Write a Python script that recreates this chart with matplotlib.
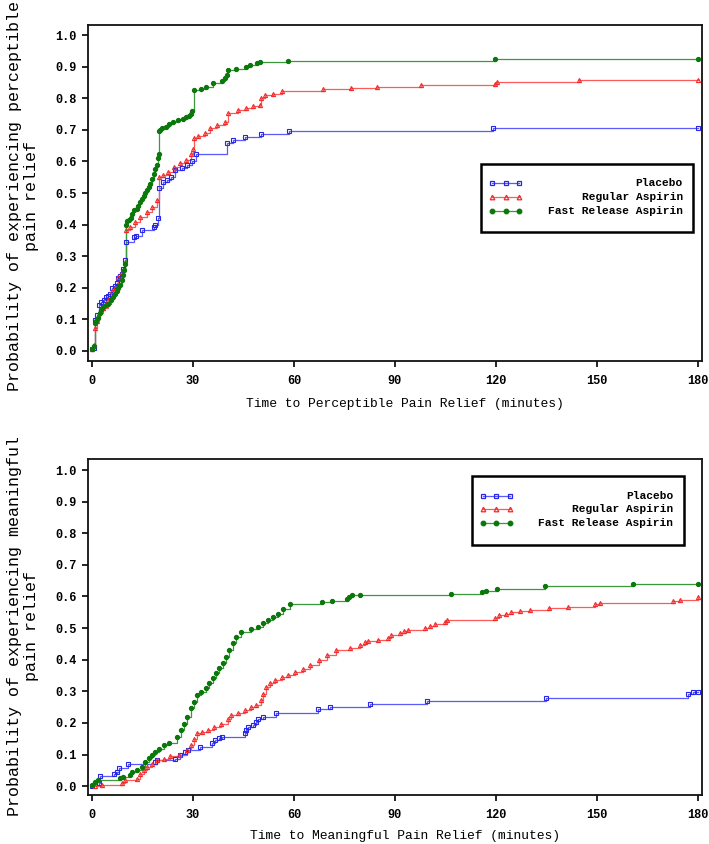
import matplotlib
matplotlib.use("Agg")
import matplotlib.pyplot as plt
from matplotlib.patches import Rectangle
from matplotlib.lines import Line2D

# ---------------- data ----------------
series_names = ["Placebo", "Regular Aspirin", "Fast Release Aspirin"]
x_ticks = [0, 30, 60, 90, 120, 150, 180]
y_ticks = [0.0, 0.1, 0.2, 0.3, 0.4, 0.5, 0.6, 0.7, 0.8, 0.9, 1.0]

# Top panel: perceptible pain relief
perc_placebo_t = [0, 0.5, 1.0, 1.5, 2.0, 2.8, 3.5, 4.1, 4.8, 5.3, 6.0, 6.8, 7.3, 7.8, 8.3, 8.8, 9.3, 9.8,
                  10.0, 12.5, 13.2, 14.8, 18.3, 18.8, 19.7, 20.0, 21.2, 22.2, 23.5, 24.5, 26.8, 28.3,
                  29.8, 30.8, 40.2, 41.8, 45.5, 50.2, 58.5, 119.0, 180.0]
perc_placebo_p = [0.005, 0.01, 0.098, 0.115, 0.146, 0.155, 0.162, 0.17, 0.175, 0.18, 0.2, 0.205, 0.215,
                  0.23, 0.238, 0.245, 0.26, 0.288, 0.345, 0.36, 0.365, 0.383, 0.393, 0.40, 0.42, 0.515,
                  0.535, 0.54, 0.55, 0.573, 0.58, 0.59, 0.60, 0.623, 0.658, 0.668, 0.678, 0.687, 0.696,
                  0.705, 0.705]

perc_regular_t = [0, 0.5, 1.0, 1.5, 2.2, 3.2, 4.7, 5.8, 6.8, 7.8, 8.8, 9.8, 10.0, 11.3, 12.8, 14.3, 16.3,
                  17.8, 19.3, 20.0, 21.2, 22.7, 24.2, 26.2, 27.8, 29.3, 30.0, 30.3, 31.5, 33.5, 35.0,
                  37.0, 39.5, 40.3, 43.3, 45.8, 47.8, 49.8, 50.3, 51.3, 53.8, 56.3, 68.7, 77.0, 84.6,
                  97.7, 119.8, 120.2, 144.6, 180.0]
perc_regular_p = [0.005, 0.019, 0.073, 0.095, 0.12, 0.135, 0.16, 0.19, 0.20, 0.235, 0.25, 0.28, 0.383,
                  0.393, 0.409, 0.425, 0.44, 0.456, 0.478, 0.552, 0.557, 0.568, 0.583, 0.594, 0.605,
                  0.625, 0.64, 0.673, 0.679, 0.69, 0.705, 0.715, 0.725, 0.752, 0.763, 0.768, 0.774,
                  0.779, 0.80, 0.81, 0.815, 0.824, 0.828, 0.832, 0.835, 0.841, 0.845, 0.851, 0.857,
                  0.857]

perc_fast_t = [0, 0.5, 1.0, 1.3, 1.8, 2.3, 2.8, 3.3, 4.0, 4.8, 5.5, 6.2, 6.8, 7.3, 7.8, 8.3, 8.8, 9.2,
               9.5, 9.8, 10.0, 10.5, 11.0, 11.5, 12.0, 12.5, 13.3, 13.8, 14.3, 14.8, 15.3, 15.8, 16.3,
               16.8, 17.3, 17.8, 18.3, 18.8, 19.2, 19.5, 19.8, 20.0, 20.3, 20.8, 22.0, 23.0, 24.0,
               25.5, 27.0, 28.0, 28.8, 29.3, 29.8, 30.2, 32.3, 33.8, 35.8, 38.7, 39.5, 40.0, 40.3,
               42.9, 45.6, 47.0, 48.9, 49.8, 58.2, 119.8, 180.0]
perc_fast_p = [0.005, 0.015, 0.088, 0.095, 0.105, 0.12, 0.13, 0.14, 0.145, 0.15, 0.16, 0.17, 0.18, 0.19,
               0.20, 0.21, 0.225, 0.24, 0.255, 0.275, 0.40, 0.41, 0.415, 0.42, 0.435, 0.445, 0.45,
               0.46, 0.47, 0.48, 0.49, 0.50, 0.51, 0.52, 0.53, 0.545, 0.56, 0.575, 0.59, 0.61, 0.625,
               0.695, 0.70, 0.705, 0.71, 0.72, 0.725, 0.73, 0.735, 0.74, 0.745, 0.75, 0.76, 0.826,
               0.83, 0.835, 0.847, 0.855, 0.865, 0.875, 0.889, 0.894, 0.90, 0.905, 0.912, 0.915,
               0.919, 0.924, 0.924]

# Bottom panel: meaningful pain relief
mean_placebo_t = [0, 2.0, 2.4, 6.4, 7.4, 7.9, 10.8, 18.7, 19.2, 24.6, 26.1, 27.6, 28.6, 32.1, 35.6,
                  36.6, 37.6, 38.6, 45.5, 45.8, 46.2, 47.7, 48.7, 49.2, 50.7, 54.6, 67.0, 70.7, 82.6,
                  99.6, 135.0, 177.0, 178.5, 180.0]
mean_placebo_p = [0.0, 0.01, 0.033, 0.04, 0.045, 0.056, 0.07, 0.077, 0.082, 0.087, 0.098, 0.108,
                  0.115, 0.125, 0.135, 0.146, 0.151, 0.156, 0.167, 0.177, 0.188, 0.193, 0.204, 0.214,
                  0.22, 0.232, 0.243, 0.25, 0.26, 0.27, 0.28, 0.29, 0.297, 0.297]

mean_regular_t = [0.9, 3.0, 8.8, 9.8, 13.3, 14.3, 15.3, 16.3, 17.8, 19.3, 21.3, 23.3, 25.8, 28.3, 29.3,
                  30.3, 31.3, 32.8, 34.3, 36.3, 38.3, 40.3, 41.3, 43.3, 45.3, 47.3, 48.8, 50.3, 50.8,
                  51.8, 52.8, 54.3, 56.3, 58.3, 60.3, 62.8, 64.8, 67.3, 69.8, 72.5, 76.7, 79.5, 81.0,
                  82.0, 85.0, 88.0, 88.8, 91.6, 92.6, 94.0, 99.0, 100.5, 101.8, 105.0, 105.5, 119.8,
                  121.0, 123.0, 124.5, 127.0, 130.0, 135.8, 141.5, 149.4, 151.0, 172.6, 174.7, 180.0]
mean_regular_p = [0.0, 0.005, 0.01, 0.019, 0.024, 0.04, 0.05, 0.06, 0.07, 0.082, 0.087, 0.094, 0.10,
                  0.113, 0.129, 0.15, 0.167, 0.172, 0.177, 0.188, 0.198, 0.214, 0.225, 0.232, 0.241,
                  0.249, 0.257, 0.272, 0.293, 0.314, 0.327, 0.335, 0.344, 0.351, 0.362, 0.372, 0.383,
                  0.399, 0.415, 0.43, 0.438, 0.448, 0.455, 0.46, 0.463, 0.47, 0.478, 0.485, 0.49,
                  0.495, 0.50, 0.508, 0.513, 0.52, 0.525, 0.532, 0.54, 0.545, 0.55, 0.553, 0.556,
                  0.563, 0.568, 0.575, 0.58, 0.585, 0.59, 0.597]

mean_fast_t = [0, 0.9, 1.9, 8.3, 9.3, 11.3, 11.8, 13.3, 14.8, 15.8, 16.8, 17.8, 18.8, 19.8, 21.3, 22.8,
               25.3, 26.3, 27.3, 28.3, 29.3, 30.3, 31.3, 32.3, 33.8, 34.8, 35.8, 36.8, 37.8, 38.8,
               39.8, 40.8, 41.8, 42.8, 44.3, 47.3, 49.3, 50.8, 52.3, 53.8, 55.3, 56.8, 58.8, 68.2,
               71.2, 75.6, 76.3, 77.1, 79.7, 106.6, 115.8, 117.0, 120.2, 134.6, 160.6, 180.0]
mean_fast_p = [0.003, 0.014, 0.02, 0.025, 0.03, 0.035, 0.045, 0.05, 0.06, 0.077, 0.088, 0.098, 0.109,
               0.119, 0.13, 0.135, 0.156, 0.177, 0.198, 0.219, 0.246, 0.267, 0.288, 0.299, 0.31,
               0.325, 0.341, 0.357, 0.373, 0.389, 0.41, 0.431, 0.452, 0.473, 0.488, 0.496, 0.502,
               0.515, 0.527, 0.536, 0.546, 0.562, 0.576, 0.582, 0.587, 0.593, 0.598, 0.604, 0.606,
               0.609, 0.613, 0.618, 0.625, 0.634, 0.64, 0.64]

# ---------------- style ----------------
line_colors = ["#5a5aff", "#ff5a5a", "#3a9a3a"]
marker_colors = ["#2626e6", "#f02a2a", "#0b780b"]
markers = ["s", "^", "o"]
fills = ["none", "none", "full"]
MONO = ["Liberation Mono", "DejaVu Sans Mono"]

fig = plt.figure(figsize=(7.09, 8.44), dpi=100)
ax_top = fig.add_axes([88 / 709, 1 - 361 / 844, 614 / 709, 336 / 844])
ax_bot = fig.add_axes([88 / 709, 1 - 795 / 844, 614 / 709, 336 / 844])


def draw_panel(ax, data, ylim, legend_box, rows_y, handle_x, text_x):
    for i, (t, p) in enumerate(data):
        ax.step(t, p, where="post", color=line_colors[i], lw=0.9, zorder=2)
        ax.plot(t, p, ls="none", marker=markers[i], ms=3.0, mew=0.8,
                mec=marker_colors[i], mfc=marker_colors[i] if fills[i] == "full" else "none",
                zorder=3)
    ax.set_xlim(-1.2, 181.2)
    ax.set_ylim(*ylim)
    ax.set_xticks(x_ticks)
    ax.set_xticklabels([str(v) for v in x_ticks])
    ax.set_yticks(y_ticks)
    ax.set_yticklabels([f"{v:.1f}" for v in y_ticks])
    for lab in ax.get_xticklabels() + ax.get_yticklabels():
        lab.set_fontfamily(MONO)
        lab.set_fontweight("bold")
        lab.set_fontsize(8.6)
    ax.tick_params(axis="x", direction="out", length=4, width=1.2, pad=6, colors="black")
    ax.tick_params(axis="y", direction="out", length=4, width=1.2, pad=4, colors="black")
    for s in ax.spines.values():
        s.set_linewidth(1.3)
        s.set_color("#111111")
    # legend box
    x0, y0, x1, y1 = legend_box
    ax.add_patch(Rectangle((x0, y0), x1 - x0, y1 - y0, transform=ax.transAxes,
                           fill=False, ec="black", lw=1.8, zorder=5))
    for i, name in enumerate(series_names):
        yy = rows_y[i]
        hx0, hx1 = handle_x
        ax.add_line(Line2D([hx0, (hx0 + hx1) / 2, hx1], [yy, yy, yy], transform=ax.transAxes,
                           color=line_colors[i], lw=0.9, marker=markers[i], ms=3.3, mew=0.9,
                           mec=marker_colors[i],
                           mfc=marker_colors[i] if fills[i] == "full" else "none", zorder=6))
        ax.text(text_x, yy, name, transform=ax.transAxes, ha="right", va="center",
                fontfamily=MONO, fontweight="bold", fontsize=8.1, zorder=6)


draw_panel(ax_top,
           [(perc_placebo_t, perc_placebo_p), (perc_regular_t, perc_regular_p),
            (perc_fast_t, perc_fast_p)],
           (-0.032, 1.032),
           (0.640, 0.384, 0.985, 0.586), (0.530, 0.488, 0.446), (0.658, 0.702), 0.969)

draw_panel(ax_bot,
           [(mean_placebo_t, mean_placebo_p), (mean_regular_t, mean_regular_p),
            (mean_fast_t, mean_fast_p)],
           (-0.028, 1.035),
           (0.625, 0.744, 0.971, 0.949), (0.891, 0.850, 0.810), (0.643, 0.687), 0.953)

fig.text(405 / 709, 1 - 404 / 844, "Time to Perceptible Pain Relief (minutes)",
         ha="center", va="center", fontfamily=MONO, fontsize=9.4)
fig.text(405 / 709, 1 - 836 / 844, "Time to Meaningful Pain Relief (minutes)",
         ha="center", va="center", fontfamily=MONO, fontsize=9.4)
fig.text(23 / 709, 1 - 196 / 844, "Probability of experiencing perceptible\npain relief",
         rotation=90, ha="center", va="center", multialignment="center",
         fontfamily=MONO, fontsize=12, linespacing=1.15)
fig.text(23 / 709, 1 - 626 / 844, "Probability of experiencing meaningful\npain relief",
         rotation=90, ha="center", va="center", multialignment="center",
         fontfamily=MONO, fontsize=12, linespacing=1.15)

fig.savefig("out.png", dpi=100)
